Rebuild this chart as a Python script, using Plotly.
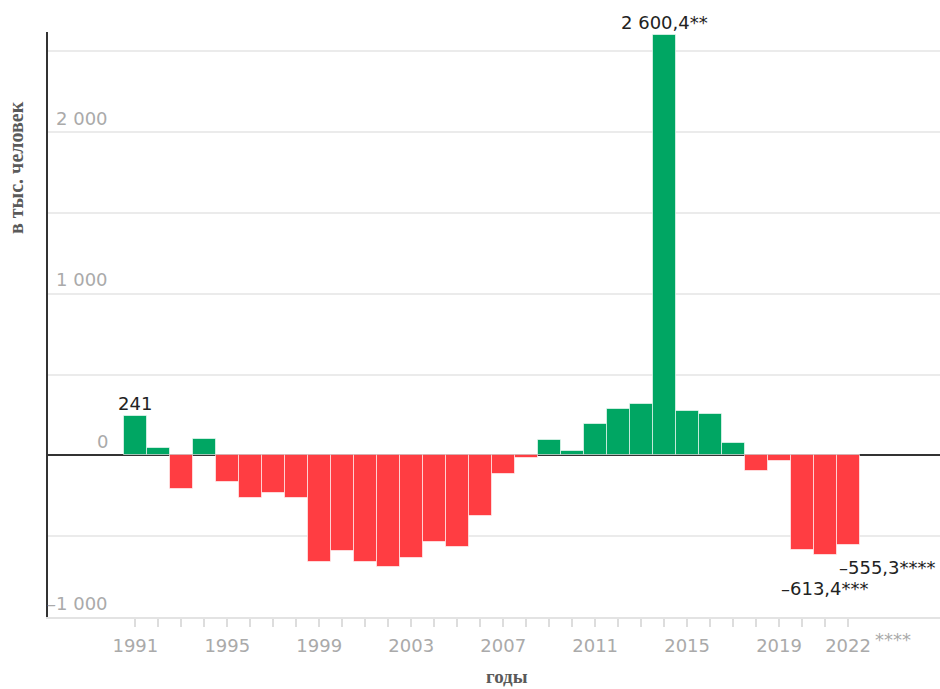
import plotly.graph_objects as go

years = list(range(1991, 2023))
values = [241, 43, -206, 101, -165, -265, -231, -265, -657, -591,
          -657, -690, -632, -533, -566, -378, -118, -14, 93, 27,
          192, 287, 320, 2600.4, 273, 256, 79, -99, -35, -585,
          -613.4, -555.3]

labeled_years = [1991, 1995, 1999, 2003, 2007, 2011, 2015, 2019, 2022]
tick_years = years
tick_labels = [str(y) if y in labeled_years else "" for y in years]
tick_suffix_2022 = "****"

y_grid = [-1000, -500, 0, 500, 1000, 1500, 2000, 2500]
y_label_vals = [-1000, 0, 1000, 2000]
y_label_text = ["–1 000", "0", "1 000", "2 000"]

value_labels = {1991: "241", 2014: "2 600,4**", 2021: "–613,4***", 2022: "–555,3****"}

GREEN = "#00a663"
RED = "#ff3d42"
colors = [GREEN if v >= 0 else RED for v in values]

NUM_FONT = "DejaVu Sans"
TITLE_FONT = "Liberation Serif"

fig = go.Figure()
fig.add_trace(go.Bar(
    x=years, y=values,
    marker=dict(color=colors, line=dict(color="rgba(255,255,255,0.6)", width=1)),
    hoverinfo="x+y", showlegend=False,
))

annotations = []
# y tick labels (drawn inside the plot, above gridlines)
for v, t in zip(y_label_vals, y_label_text):
    annotations.append(dict(x=0, xref="paper", y=v, yref="y", text=t, showarrow=False,
                            xanchor="right", yanchor="middle", xshift=62, yshift=14,
                            font=dict(family=NUM_FONT, size=18, color="#aaaaaa")))
# 2022 tick suffix
annotations.append(dict(x=2022, xref="x", y=0, yref="paper", text=tick_suffix_2022, showarrow=False,
                        xanchor="left", yanchor="middle", xshift=25, yshift=-22,
                        font=dict(family=NUM_FONT, size=18, color="#aaaaaa")))
# value labels
lab_font = dict(family=NUM_FONT, size=18, color="#222222")
for yr, txt in value_labels.items():
    v = values[years.index(yr)]
    if yr in (1991, 2014):
        annotations.append(dict(x=yr, y=v, text=txt, showarrow=False, xanchor="center",
                                yanchor="bottom", yshift=0, font=lab_font))
    elif yr == 2021:
        annotations.append(dict(x=yr, y=v, text=txt, showarrow=False, xanchor="center",
                                yanchor="top", yshift=-21, font=lab_font))
    else:
        annotations.append(dict(x=yr - 0.5, y=v, text=txt, showarrow=False, xanchor="left",
                                yanchor="top", yshift=-10, font=lab_font))
# axis titles
annotations.append(dict(x=0, xref="paper", y=0.7675, yref="paper", text="<b>в тыс. человек</b>",
                        showarrow=False, textangle=-90, xanchor="center", yanchor="middle",
                        xshift=-32, font=dict(family=TITLE_FONT, size=20, color="#5a5a5a")))
annotations.append(dict(x=0.5146, xref="paper", y=0, yref="paper", text="<b>годы</b>",
                        showarrow=False, xanchor="center", yanchor="middle", yshift=-59,
                        font=dict(family=TITLE_FONT, size=19, color="#5a5a5a")))

fig.update_layout(
    width=940, height=689,
    margin=dict(l=48, r=0, t=32, b=72),
    paper_bgcolor="white", plot_bgcolor="white",
    bargap=0.0,
    annotations=annotations,
    xaxis=dict(range=[1987.2, 2026], tickmode="array", tickvals=tick_years, ticktext=tick_labels,
               ticks="outside", ticklen=8, tickcolor="#dddddd", tickwidth=1.5,
               ticklabelstandoff=3,
               tickfont=dict(family=NUM_FONT, size=18, color="#aaaaaa"),
               showgrid=False, zeroline=False, showline=True, linecolor="#e3e3e3", linewidth=2),
    yaxis=dict(range=[-1000, 2620], tickmode="array", tickvals=y_grid, showticklabels=False,
               showgrid=True, gridcolor="#ebebeb", gridwidth=1.5,
               zeroline=True, zerolinecolor="#333333", zerolinewidth=1.5,
               showline=True, linecolor="#333333", linewidth=1.5, ticks=""),
)

fig.write_html("out.html", config={"displayModeBar": False},
               post_script="document.body.style.margin='0px';document.body.style.overflow='hidden';")
